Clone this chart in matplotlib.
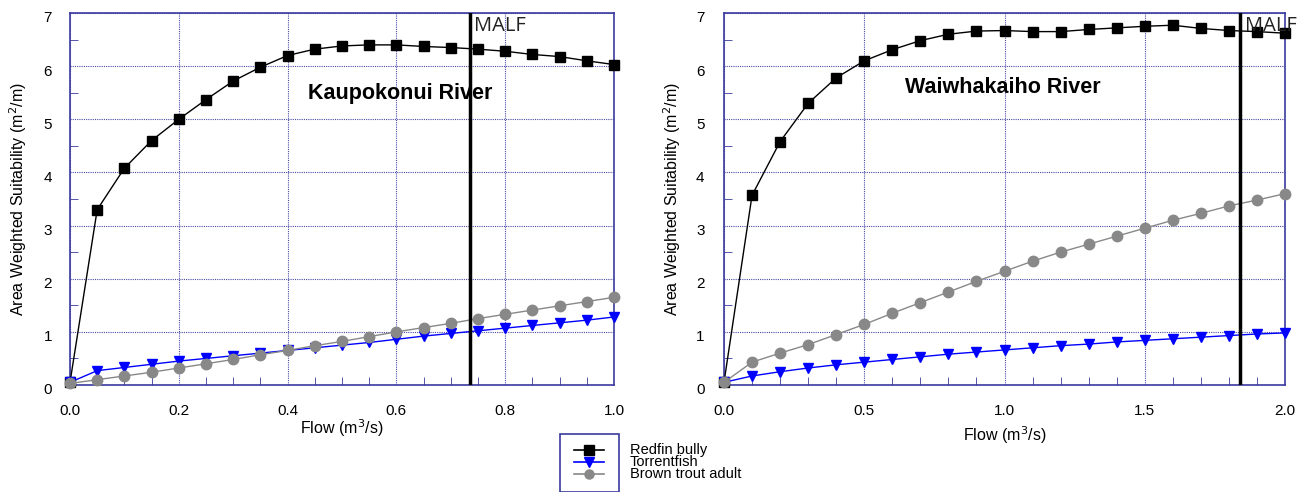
import numpy as np
import matplotlib
matplotlib.use("Agg")
import matplotlib.pyplot as plt
from matplotlib.lines import Line2D
from matplotlib.patches import Rectangle
from matplotlib.ticker import MultipleLocator, FormatStrFormatter
from matplotlib.transforms import ScaledTranslation

plt.rcParams['font.family'] = ['Liberation Sans', 'DejaVu Sans']

# Kaupokonui River
flow_k = [0.0, 0.05, 0.1, 0.15, 0.2, 0.25, 0.3, 0.35, 0.4, 0.45, 0.5,
          0.55, 0.6, 0.65, 0.7, 0.75, 0.8, 0.85, 0.9, 0.95, 1.0]
redfin_k = [0.05, 3.3, 4.08, 4.6, 5.0, 5.37, 5.72, 5.98, 6.2, 6.32, 6.38,
            6.4, 6.4, 6.37, 6.35, 6.32, 6.28, 6.22, 6.18, 6.1, 6.03]
torrent_k = [0.05, 0.27, 0.33, 0.39, 0.45, 0.5, 0.55, 0.6, 0.65, 0.7, 0.75,
             0.8, 0.86, 0.92, 0.97, 1.02, 1.07, 1.12, 1.17, 1.22, 1.28]
trout_k = [0.03, 0.1, 0.17, 0.24, 0.32, 0.4, 0.48, 0.57, 0.65, 0.74, 0.82,
           0.91, 1.0, 1.08, 1.16, 1.25, 1.33, 1.41, 1.49, 1.57, 1.65]
malf_k = 0.735

# Waiwhakaiho River
flow_w = [0.0, 0.1, 0.2, 0.3, 0.4, 0.5, 0.6, 0.7, 0.8, 0.9, 1.0,
          1.1, 1.2, 1.3, 1.4, 1.5, 1.6, 1.7, 1.8, 1.9, 2.0]
redfin_w = [0.05, 3.57, 4.58, 5.3, 5.78, 6.1, 6.31, 6.48, 6.6, 6.66, 6.67,
            6.65, 6.65, 6.69, 6.72, 6.75, 6.77, 6.71, 6.67, 6.65, 6.62]
torrent_w = [0.05, 0.17, 0.25, 0.32, 0.38, 0.43, 0.48, 0.53, 0.58, 0.62, 0.66,
             0.7, 0.74, 0.77, 0.81, 0.84, 0.87, 0.9, 0.93, 0.96, 0.98]
trout_w = [0.05, 0.43, 0.6, 0.76, 0.95, 1.14, 1.35, 1.55, 1.75, 1.95, 2.14,
           2.33, 2.5, 2.65, 2.8, 2.95, 3.1, 3.23, 3.37, 3.48, 3.6]
malf_w = 1.84

species = ["Redfin bully", "Torrentfish", "Brown trout adult"]

AXC = "#3a3aa0"
GRIDC = "#4a4aa8"
styles = [
    dict(color="black", marker="s", markersize=7, markerfacecolor="black", lw=1),
    dict(color="#0000ff", marker="v", markersize=7.5, markerfacecolor="#0000ff", lw=1),
    dict(color="#888888", marker="o", markersize=7.5, markerfacecolor="#888888", lw=1),
]

fig = plt.figure(figsize=(13.08, 4.92), dpi=100)
ax1 = fig.add_axes([70/1308, 1-385/492, 544/1308, 372/492])
ax2 = fig.add_axes([724/1308, 1-385/492, 561/1308, 372/492])


def setup(ax, flow, series, malf, xmax, xmaj, xmin, title, tpos, ypad, xlab_y, ylab_x):
    for vals, st in zip(series, styles):
        ax.plot(flow, vals, zorder=3, clip_on=False, **st)
    ax.axvline(malf, color="black", lw=2.5, zorder=4)
    ax.text(malf + xmax*0.008, 6.75, "MALF", fontsize=14.5, color="#222222",
            va="center", ha="left", family=["Open Sans", "DejaVu Sans"])
    ax.text(tpos[0], tpos[1], title, fontsize=15.5, fontweight="bold",
            ha="left", va="center")
    ax.set_xlim(0, xmax)
    ax.set_ylim(0, 7)
    ax.xaxis.set_major_locator(MultipleLocator(xmaj))
    ax.xaxis.set_minor_locator(MultipleLocator(xmin))
    ax.yaxis.set_major_locator(MultipleLocator(1))
    ax.yaxis.set_minor_locator(MultipleLocator(0.5))
    ax.xaxis.set_major_formatter(FormatStrFormatter("%.1f"))
    ax.grid(True, which="major", color=GRIDC, ls=(0, (1, 1)), lw=0.8)
    ax.tick_params(which="both", direction="in", colors=AXC, labelcolor="black",
                   labelsize=11)
    ax.tick_params(axis="x", which="major", length=0, pad=14)
    ax.tick_params(axis="y", which="major", length=0, pad=ypad)
    ax.tick_params(which="minor", length=6)
    for s in ax.spines.values():
        s.set_color(AXC)
        s.set_linewidth(1.2)
    ax.set_xlabel("Flow (m$^3$/s)", fontsize=11.5)
    ax.set_ylabel("Area Weighted Suitability (m$^2$/m)", fontsize=11.5)
    ax.xaxis.set_label_coords(0.5, xlab_y)
    ax.xaxis.label.set_va("center")
    ax.yaxis.set_label_coords(ylab_x, 0.5)
    ax.yaxis.label.set_va("center")
    off = ScaledTranslation(0, -4/100, fig.dpi_scale_trans)
    for t in ax.yaxis.get_major_ticks():
        t.label1.set_transform(t.label1.get_transform() + off)


setup(ax1, flow_k, [redfin_k, torrent_k, trout_k], malf_k, 1.0, 0.2, 0.05,
      "Kaupokonui River", (0.4375, 5.49), 13, (385-428)/372, (18-70)/544)
setup(ax2, flow_w, [redfin_w, torrent_w, trout_w], malf_w, 2.0, 0.5, 0.1,
      "Waiwhakaiho River", (0.645, 5.6), 14, (385-435)/372, (672-724)/561)

# Legend
fig.patches.append(Rectangle((560/1308, 0), 59/1308, 1-434/492, transform=fig.transFigure,
                             fill=False, edgecolor=AXC, lw=1.2))
rows_y = [450, 462, 474]
for name, st, yp in zip(species, styles, rows_y):
    yf = 1 - yp/492
    fig.add_artist(Line2D([574/1308, 604/1308], [yf, yf], transform=fig.transFigure,
                          color=st["color"], lw=1.2))
    fig.add_artist(Line2D([589/1308], [yf], transform=fig.transFigure,
                          marker=st["marker"], color=st["color"], markersize=6.5, lw=0))
    fig.text(630/1308, yf, name, fontsize=10.5, va="center", ha="left")

fig.savefig("out.png", dpi=100)
